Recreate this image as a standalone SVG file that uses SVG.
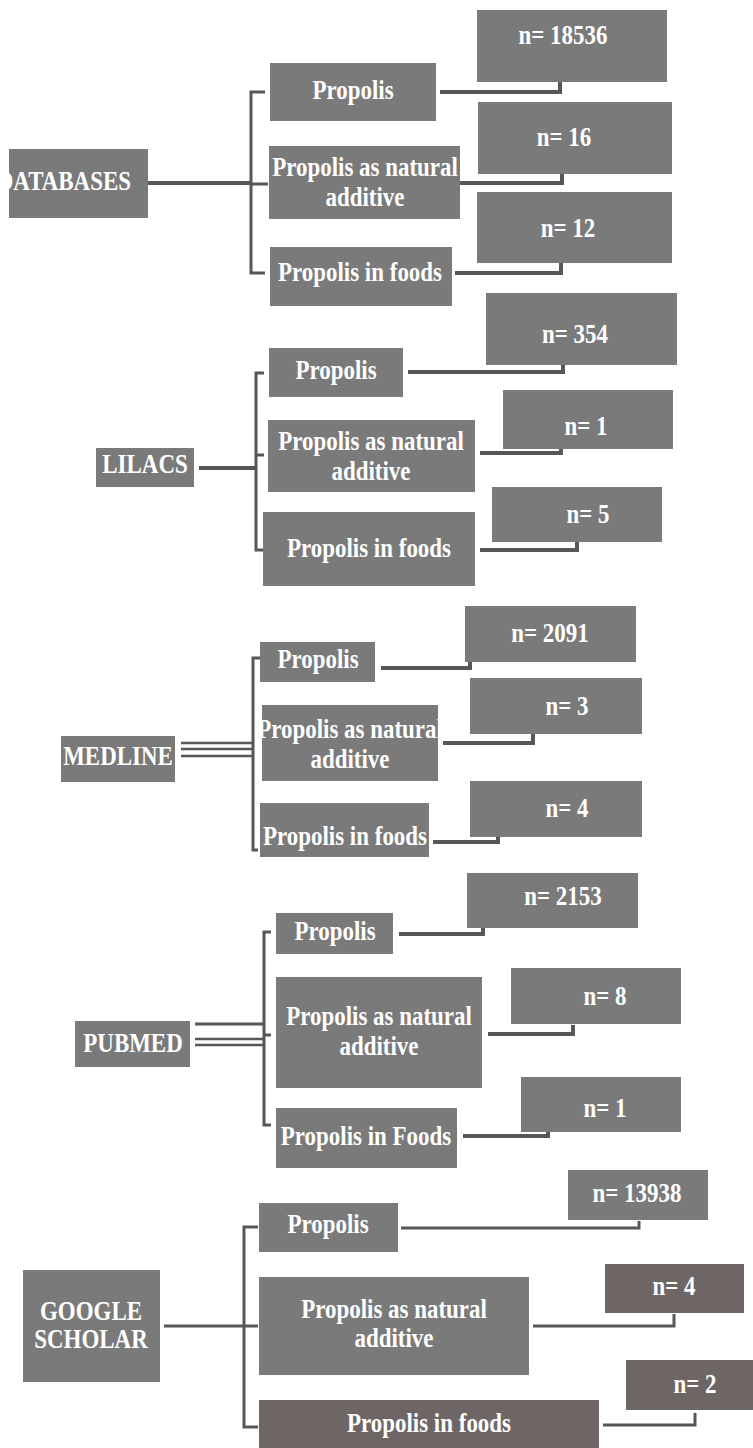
<svg xmlns="http://www.w3.org/2000/svg" width="753" height="1448" viewBox="0 0 753 1448">
<style>
.b{fill:#7a7a7a}
.br{fill:#6d6665}
.t{font-family:"Liberation Serif","Times New Roman",serif;font-weight:bold;font-size:27px;fill:#ffffff;text-anchor:middle}
.c{fill:none;stroke:#575757;stroke-width:4}
.c3{fill:none;stroke:#575757;stroke-width:3}
.c2{fill:none;stroke:#575757;stroke-width:2.5}
</style>
<rect width="753" height="1448" fill="#ffffff"/>
<g id="connectors">
<path class="c" d="M148,183 H251" stroke-width="5"/>
<path class="c3" d="M265,92 H251 V273 H265 M251,184 H268"/>
<path class="c" d="M440,92 H560 V82"/>
<path class="c" d="M460,183 H562 V174"/>
<path class="c" d="M455,273 H561 V263"/>
<path class="c" d="M199,468 H256"/>
<path class="c3" d="M264,373 H256 V550 H264 M256,455 H264"/>
<path class="c" d="M408,372 H563 V365"/>
<path class="c" d="M480,453 H561 V449"/>
<path class="c" d="M480,550 H577 V542"/>
<path class="c2" d="M181,743 H253 M181,749 H253 M181,756 H253"/>
<path class="c3" d="M260,658 H253 V850 H258"/>
<path class="c" d="M381,668 H470 V662"/>
<path class="c" d="M443,743 H533 V734"/>
<path class="c" d="M433,842 H498 V837"/>
<path class="c3" d="M195,1024 H264"/>
<path class="c2" d="M195,1039 H264 M195,1045 H264"/>
<path class="c3" d="M271,932 H264 V1125 H271 M264,1035 H271"/>
<path class="c" d="M399,934 H483 V928"/>
<path class="c" d="M488,1034 H573 V1025"/>
<path class="c" d="M463,1136 H548 V1132"/>
<path class="c3" d="M164,1326 H244"/>
<path class="c3" d="M258,1227 H244 V1427 H258 M244,1326 H258"/>
<path class="c3" d="M401,1228 H639 V1221"/>
<path class="c3" d="M533,1326 H674 V1314"/>
<path class="c3" d="M603,1425 H695 V1413"/>
</g>
<g id="databases"><rect class="b" x="9" y="149" width="139" height="69"/><text class="t" style="text-anchor:end" transform="translate(131,190) scale(0.85,1)">DATABASES</text></g>
<g id="db-propolis"><rect class="b" x="270" y="63" width="166" height="58"/><text class="t" transform="translate(353,99) scale(0.85,1)">Propolis</text></g>
<g id="db-n1"><rect class="b" x="477" y="10" width="190" height="72"/><text class="t" transform="translate(563,44) scale(0.85,1)">n= 18536</text></g>
<g id="db-natural"><rect class="b" x="269" y="146" width="191" height="73"/><text class="t" transform="translate(365,176) scale(0.85,1)"><tspan x="0" y="0">Propolis as natural</tspan><tspan x="0" y="30">additive</tspan></text></g>
<g id="db-n2"><rect class="b" x="478" y="102" width="194" height="72"/><text class="t" transform="translate(564,146) scale(0.85,1)">n= 16</text></g>
<g id="db-foods"><rect class="b" x="270" y="247" width="182" height="59"/><text class="t" transform="translate(360,281) scale(0.85,1)">Propolis in foods</text></g>
<g id="db-n3"><rect class="b" x="477" y="192" width="195" height="71"/><text class="t" transform="translate(568,237) scale(0.85,1)">n= 12</text></g>
<g id="lilacs"><rect class="b" x="96" y="448" width="98" height="39"/><text class="t" transform="translate(145,473) scale(0.85,1)">LILACS</text></g>
<g id="li-propolis"><rect class="b" x="269" y="348" width="134" height="49"/><text class="t" transform="translate(336,379) scale(0.85,1)">Propolis</text></g>
<g id="li-n1"><rect class="b" x="486" y="293" width="191" height="72"/><text class="t" transform="translate(575,343) scale(0.85,1)">n= 354</text></g>
<g id="li-natural"><rect class="b" x="268" y="420" width="207" height="72"/><text class="t" transform="translate(371,450) scale(0.85,1)"><tspan x="0" y="0">Propolis as natural</tspan><tspan x="0" y="30">additive</tspan></text></g>
<g id="li-n2"><rect class="b" x="503" y="390" width="170" height="59"/><text class="t" transform="translate(586,435) scale(0.85,1)">n= 1</text></g>
<g id="li-foods"><rect class="b" x="263" y="512" width="212" height="74"/><text class="t" transform="translate(369,557) scale(0.85,1)">Propolis in foods</text></g>
<g id="li-n3"><rect class="b" x="492" y="487" width="170" height="55"/><text class="t" transform="translate(588,523) scale(0.85,1)">n= 5</text></g>
<g id="medline"><rect class="b" x="61" y="736" width="114" height="46"/><text class="t" transform="translate(118,765) scale(0.85,1)">MEDLINE</text></g>
<g id="me-propolis"><rect class="b" x="260" y="642" width="115" height="40"/><text class="t" transform="translate(318,668) scale(0.85,1)">Propolis</text></g>
<g id="me-n1"><rect class="b" x="465" y="606" width="171" height="56"/><text class="t" transform="translate(550,642) scale(0.85,1)">n= 2091</text></g>
<g id="me-natural"><rect class="b" x="262" y="705" width="176" height="76"/><text class="t" transform="translate(350,738) scale(0.85,1)"><tspan x="0" y="0">Propolis as natural</tspan><tspan x="0" y="30">additive</tspan></text></g>
<g id="me-n2"><rect class="b" x="470" y="678" width="172" height="56"/><text class="t" transform="translate(567,715) scale(0.85,1)">n= 3</text></g>
<g id="me-foods"><rect class="b" x="260" y="803" width="169" height="54"/><text class="t" transform="translate(345,845) scale(0.85,1)">Propolis in foods</text></g>
<g id="me-n3"><rect class="b" x="470" y="781" width="172" height="56"/><text class="t" transform="translate(567,817) scale(0.85,1)">n= 4</text></g>
<g id="pubmed"><rect class="b" x="75" y="1021" width="115" height="46"/><text class="t" transform="translate(133,1052) scale(0.85,1)">PUBMED</text></g>
<g id="pu-propolis"><rect class="b" x="276" y="913" width="117" height="41"/><text class="t" transform="translate(335,940) scale(0.85,1)">Propolis</text></g>
<g id="pu-n1"><rect class="b" x="467" y="873" width="171" height="55"/><text class="t" transform="translate(563,905) scale(0.85,1)">n= 2153</text></g>
<g id="pu-natural"><rect class="b" x="276" y="977" width="206" height="111"/><text class="t" transform="translate(379,1025) scale(0.85,1)"><tspan x="0" y="0">Propolis as natural</tspan><tspan x="0" y="30">additive</tspan></text></g>
<g id="pu-n2"><rect class="b" x="511" y="968" width="170" height="56"/><text class="t" transform="translate(605,1005) scale(0.85,1)">n= 8</text></g>
<g id="pu-foods"><rect class="b" x="276" y="1108" width="181" height="60"/><text class="t" transform="translate(366,1145) scale(0.85,1)">Propolis in Foods</text></g>
<g id="pu-n3"><rect class="b" x="521" y="1077" width="160" height="55"/><text class="t" transform="translate(605,1117) scale(0.85,1)">n= 1</text></g>
<g id="scholar"><rect class="b" x="23" y="1270" width="137" height="112"/><text class="t" transform="translate(91,1320) scale(0.85,1)"><tspan x="0" y="0">GOOGLE</tspan><tspan x="0" y="28">SCHOLAR</tspan></text></g>
<g id="gs-propolis"><rect class="b" x="259" y="1203" width="139" height="49"/><text class="t" transform="translate(328,1233) scale(0.85,1)">Propolis</text></g>
<g id="gs-n1"><rect class="b" x="568" y="1170" width="140" height="50"/><text class="t" transform="translate(637,1202) scale(0.85,1)">n= 13938</text></g>
<g id="gs-natural"><rect class="b" x="259" y="1277" width="270" height="98"/><text class="t" transform="translate(394,1318) scale(0.85,1)"><tspan x="0" y="0">Propolis as natural</tspan><tspan x="0" y="29">additive</tspan></text></g>
<g id="gs-n2"><rect class="br" x="605" y="1264" width="139" height="49"/><text class="t" transform="translate(674,1295) scale(0.85,1)">n= 4</text></g>
<g id="gs-foods"><rect class="br" x="259" y="1400" width="340" height="48"/><text class="t" transform="translate(429,1432) scale(0.85,1)">Propolis in foods</text></g>
<g id="gs-n3"><rect class="br" x="626" y="1360" width="127" height="50"/><text class="t" transform="translate(695,1393) scale(0.85,1)">n= 2</text></g>
</svg>
